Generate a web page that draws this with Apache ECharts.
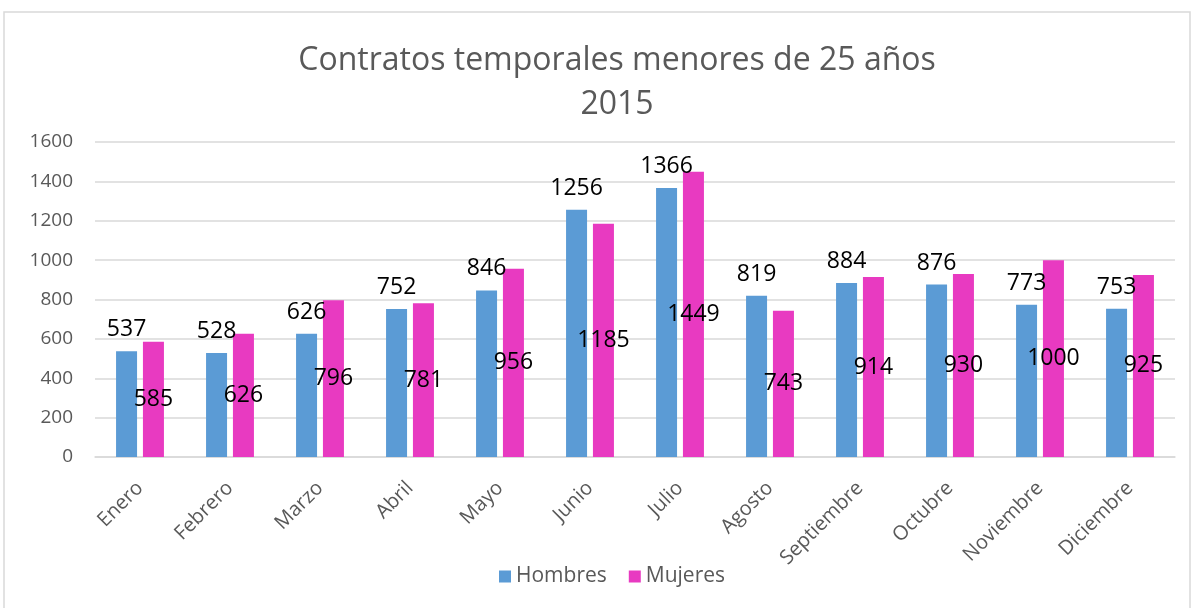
<!DOCTYPE html>
<html>
<head>
<meta charset="utf-8">
<script src="https://cdn.jsdelivr.net/npm/echarts@6/dist/echarts.min.js"></script>
<style>
html,body{margin:0;padding:0;background:#fff;}
#chart{width:1202px;height:608px;}
</style>
</head>
<body>
<div id="chart"></div>
<script>
var meses = ['Enero', 'Febrero', 'Marzo', 'Abril', 'Mayo', 'Junio', 'Julio', 'Agosto', 'Septiembre', 'Octubre', 'Noviembre', 'Diciembre'];
var hombres = [537, 528, 626, 752, 846, 1256, 1366, 819, 884, 876, 773, 753];
var mujeres = [585, 626, 796, 781, 956, 1185, 1449, 743, 914, 930, 1000, 925];

var fuente = 'Open Sans';
var myChart = echarts.init(document.getElementById('chart'));
var option = {
    backgroundColor: '#fff',
    textStyle: {fontFamily: fuente},
    graphic: [{
        type: 'rect',
        shape: {x: 4, y: 12, width: 1186, height: 620},
        style: {fill: 'none', stroke: '#D9D9D9', lineWidth: 1.5},
        silent: true
    }],
    title: {
        text: 'Contratos temporales menores de 25 años\n2015',
        left: 612,
        textAlign: 'center',
        top: 34,
        textStyle: {
            fontFamily: fuente,
            fontSize: 32,
            fontWeight: 'normal',
            color: '#595959',
            lineHeight: 44
        }
    },
    legend: {
        bottom: 16,
        left: 494,
        itemWidth: 12,
        itemHeight: 12,
        itemGap: 22,
        icon: 'rect',
        textStyle: {fontFamily: fuente, fontSize: 21, color: '#595959'},
        data: ['Hombres', 'Mujeres']
    },
    grid: {
        left: 95,
        right: 27,
        top: 142,
        bottom: 151,
        containLabel: false
    },
    xAxis: {
        type: 'category',
        data: meses,
        axisLine: {lineStyle: {color: '#D9D9D9', width: 1.5}},
        axisTick: {show: false},
        axisLabel: {
            rotate: 45,
            interval: 0,
            margin: 28,
            fontFamily: fuente,
            fontSize: 20,
            color: '#595959'
        }
    },
    yAxis: {
        type: 'value',
        min: 0,
        max: 1600,
        interval: 200,
        axisLine: {show: false},
        axisTick: {show: false},
        splitLine: {lineStyle: {color: '#D9D9D9', width: 1.5}},
        axisLabel: {
            margin: 22,
            formatter: function (v) { return String(v); },
            fontFamily: fuente,
            fontSize: 19,
            color: '#595959'
        }
    },
    series: [
        {
            name: 'Hombres',
            type: 'bar',
            data: hombres,
            barWidth: 21,
            barGap: '28%',
            itemStyle: {color: '#5B9BD5'},
            label: {
                show: true,
                position: 'top',
                distance: 10,
                fontFamily: fuente,
                fontSize: 23,
                color: '#000'
            }
        },
        {
            name: 'Mujeres',
            type: 'bar',
            data: mujeres,
            barWidth: 21,
            itemStyle: {color: '#E83AC1'},
            label: {
                show: true,
                position: 'inside',
                fontFamily: fuente,
                fontSize: 23,
                color: '#000'
            }
        }
    ]
};
myChart.setOption(option);
</script>
</body>
</html>
